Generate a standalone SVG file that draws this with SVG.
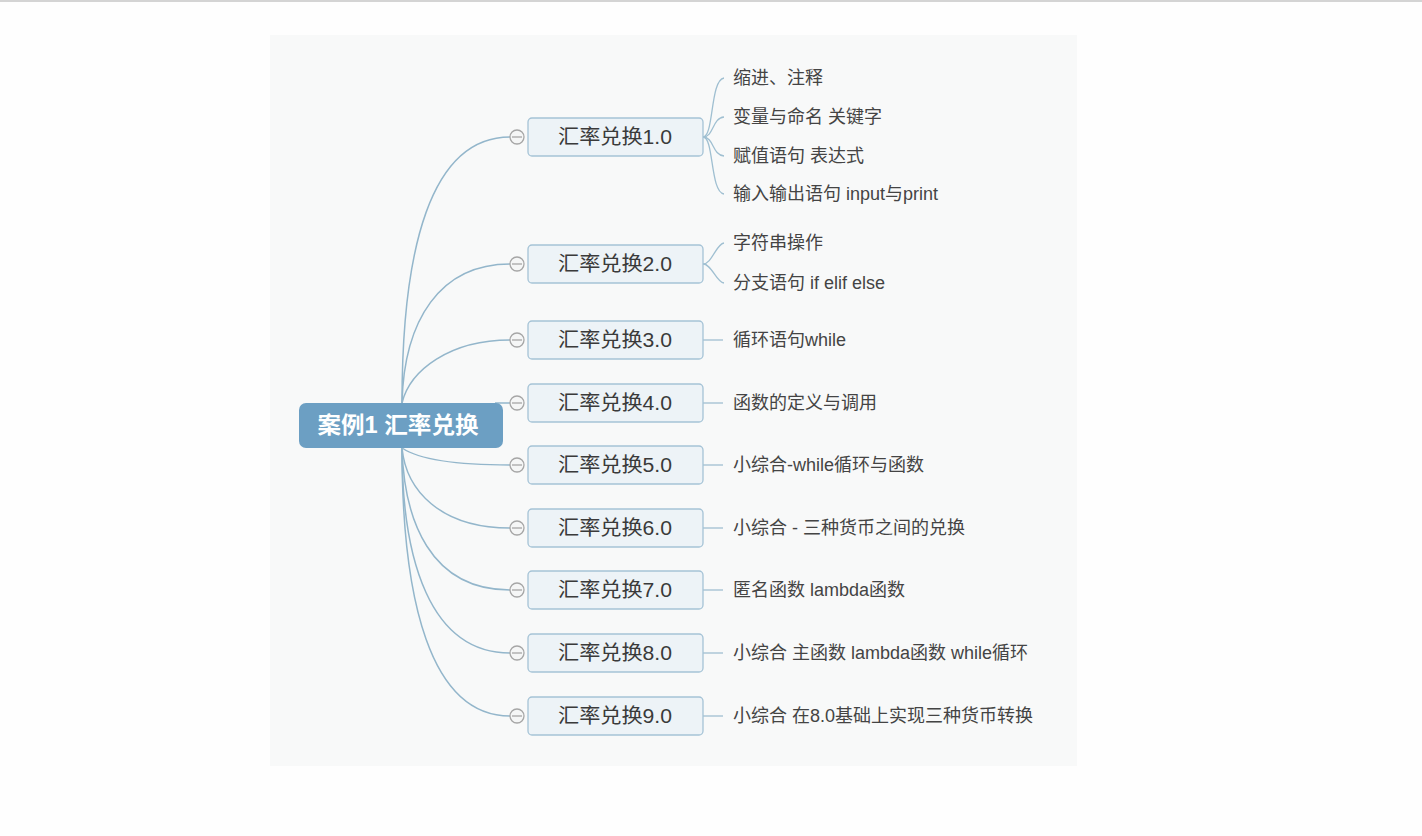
<svg xmlns="http://www.w3.org/2000/svg" width="1422" height="836" viewBox="0 0 1422 836">
<style>
.bg{fill:#fefefe}
.panel{fill:#f8f9f9}
.conn{fill:none;stroke:#93b6cb;stroke-width:1.5}
.leafc{fill:none;stroke:#9fbfd1;stroke-width:1.3}
.root{fill:#6c9fc3}
.roott{font-family:"Liberation Sans","Noto Sans CJK SC",sans-serif;font-size:23px;font-weight:bold;fill:#ffffff;text-anchor:middle}
.box{fill:#edf3f7;stroke:#a5c3d6;stroke-width:1.3}
.boxt{font-family:"Liberation Sans","Noto Sans CJK SC",sans-serif;font-size:20px;fill:#3a3a3a;text-anchor:middle}
.tog{fill:#f5f6f6;stroke:#a6a6a6;stroke-width:1.3}
.togl{stroke:#a6a6a6;stroke-width:1.3}
.leaf{font-family:"Liberation Sans","Noto Sans CJK SC",sans-serif;font-size:18px;fill:#444444}
</style>
<rect class="bg" x="0" y="0" width="1422" height="836"/>
<rect x="0" y="0" width="1422" height="2" fill="#d4d4d4"/>
<rect class="panel" x="270" y="35" width="807" height="731"/>
<g id="connectors">
<path class="conn" d="M402,403 C402,250 430,137 510,137"/>
<path class="conn" d="M402,403 C404,320 440,264 510,264"/>
<path class="conn" d="M402,403 C410,370 450,340 510,340"/>
<path class="conn" d="M495,403 L510,403"/>
<path class="conn" d="M402,448 C420,460 460,465 510,465"/>
<path class="conn" d="M402,448 C406,490 440,528 510,528"/>
<path class="conn" d="M402,448 C404,520 430,590 510,590"/>
<path class="conn" d="M402,448 C402,560 430,653 510,653"/>
<path class="conn" d="M402,448 C402,600 430,716 510,716"/>
<path class="leafc" d="M703,137 C714,137 710,80 724,78"/>
<path class="leafc" d="M703,137 C714,137 712,118 724,117"/>
<path class="leafc" d="M703,137 C714,137 712,155 724,156"/>
<path class="leafc" d="M703,137 C714,137 710,192 724,194"/>
<path class="leafc" d="M703,264 C712,264 716,244 724,243"/>
<path class="leafc" d="M703,264 C712,264 716,282 724,283"/>
<path class="leafc" d="M703,340 L723,340"/>
<path class="leafc" d="M703,403 L723,403"/>
<path class="leafc" d="M703,465 L723,465"/>
<path class="leafc" d="M703,528 L723,528"/>
<path class="leafc" d="M703,590 L723,590"/>
<path class="leafc" d="M703,653 L723,653"/>
<path class="leafc" d="M703,716 L723,716"/>
</g>
<g id="root">
<rect class="root" x="299" y="403" width="204" height="45" rx="7"/>
<text class="roott" x="398" y="433" textLength="161" lengthAdjust="spacingAndGlyphs">案例1 汇率兑换</text>
</g>
<g id="n1"><rect class="box" x="528" y="118" width="175" height="38" rx="4"/><text class="boxt" x="615" y="144" textLength="114" lengthAdjust="spacingAndGlyphs">汇率兑换1.0</text><circle class="tog" cx="517" cy="137" r="7"/><line class="togl" x1="512" y1="137" x2="522" y2="137"/></g>
<g id="n2"><rect class="box" x="528" y="245" width="175" height="38" rx="4"/><text class="boxt" x="615" y="271" textLength="114" lengthAdjust="spacingAndGlyphs">汇率兑换2.0</text><circle class="tog" cx="517" cy="264" r="7"/><line class="togl" x1="512" y1="264" x2="522" y2="264"/></g>
<g id="n3"><rect class="box" x="528" y="321" width="175" height="38" rx="4"/><text class="boxt" x="615" y="347" textLength="114" lengthAdjust="spacingAndGlyphs">汇率兑换3.0</text><circle class="tog" cx="517" cy="340" r="7"/><line class="togl" x1="512" y1="340" x2="522" y2="340"/></g>
<g id="n4"><rect class="box" x="528" y="384" width="175" height="38" rx="4"/><text class="boxt" x="615" y="410" textLength="114" lengthAdjust="spacingAndGlyphs">汇率兑换4.0</text><circle class="tog" cx="517" cy="403" r="7"/><line class="togl" x1="512" y1="403" x2="522" y2="403"/></g>
<g id="n5"><rect class="box" x="528" y="446" width="175" height="38" rx="4"/><text class="boxt" x="615" y="472" textLength="114" lengthAdjust="spacingAndGlyphs">汇率兑换5.0</text><circle class="tog" cx="517" cy="465" r="7"/><line class="togl" x1="512" y1="465" x2="522" y2="465"/></g>
<g id="n6"><rect class="box" x="528" y="509" width="175" height="38" rx="4"/><text class="boxt" x="615" y="535" textLength="114" lengthAdjust="spacingAndGlyphs">汇率兑换6.0</text><circle class="tog" cx="517" cy="528" r="7"/><line class="togl" x1="512" y1="528" x2="522" y2="528"/></g>
<g id="n7"><rect class="box" x="528" y="571" width="175" height="38" rx="4"/><text class="boxt" x="615" y="597" textLength="114" lengthAdjust="spacingAndGlyphs">汇率兑换7.0</text><circle class="tog" cx="517" cy="590" r="7"/><line class="togl" x1="512" y1="590" x2="522" y2="590"/></g>
<g id="n8"><rect class="box" x="528" y="634" width="175" height="38" rx="4"/><text class="boxt" x="615" y="660" textLength="114" lengthAdjust="spacingAndGlyphs">汇率兑换8.0</text><circle class="tog" cx="517" cy="653" r="7"/><line class="togl" x1="512" y1="653" x2="522" y2="653"/></g>
<g id="n9"><rect class="box" x="528" y="697" width="175" height="38" rx="4"/><text class="boxt" x="615" y="723" textLength="114" lengthAdjust="spacingAndGlyphs">汇率兑换9.0</text><circle class="tog" cx="517" cy="716" r="7"/><line class="togl" x1="512" y1="716" x2="522" y2="716"/></g>
<g id="l1a"><text class="leaf" x="733" y="84">缩进、注释</text></g>
<g id="l1b"><text class="leaf" x="733" y="123">变量与命名 关键字</text></g>
<g id="l1c"><text class="leaf" x="733" y="162">赋值语句 表达式</text></g>
<g id="l1d"><text class="leaf" x="733" y="200">输入输出语句 input与print</text></g>
<g id="l2a"><text class="leaf" x="733" y="249">字符串操作</text></g>
<g id="l2b"><text class="leaf" x="733" y="289">分支语句 if elif else</text></g>
<g id="l3"><text class="leaf" x="733" y="346">循环语句while</text></g>
<g id="l4"><text class="leaf" x="733" y="409">函数的定义与调用</text></g>
<g id="l5"><text class="leaf" x="733" y="471">小综合-while循环与函数</text></g>
<g id="l6"><text class="leaf" x="733" y="534">小综合 - 三种货币之间的兑换</text></g>
<g id="l7"><text class="leaf" x="733" y="596">匿名函数 lambda函数</text></g>
<g id="l8"><text class="leaf" x="733" y="659">小综合 主函数 lambda函数 while循环</text></g>
<g id="l9"><text class="leaf" x="733" y="722">小综合 在8.0基础上实现三种货币转换</text></g>
</svg>
